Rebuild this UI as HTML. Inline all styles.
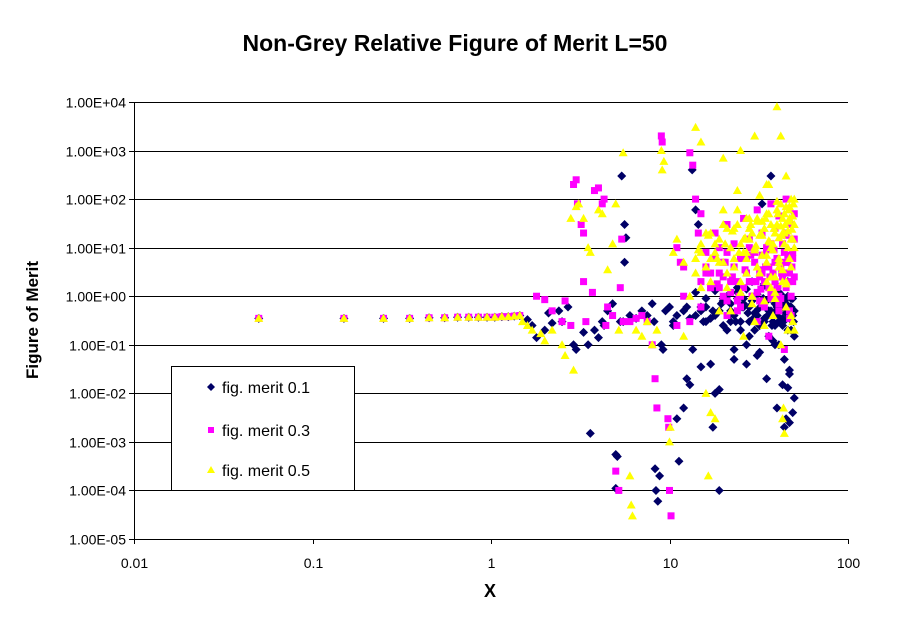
<!DOCTYPE html>
<html><head><meta charset="utf-8"><style>
body{margin:0;background:#fff;}
svg{display:block;font-family:"Liberation Sans",Arial,sans-serif;}
</style></head><body>
<svg id="chart" width="911" height="623" xmlns="http://www.w3.org/2000/svg">
<text x="455" y="51" text-anchor="middle" font-size="23" font-weight="bold">Non-Grey Relative Figure of Merit L=50</text>
<text transform="translate(38,320) rotate(-90)" text-anchor="middle" font-size="17" font-weight="bold">Figure of Merit</text>
<text x="490" y="597" text-anchor="middle" font-size="18" font-weight="bold">X</text>
<g id="grid"></g><g id="axes"></g><g id="marks"></g>
<g>
<rect x="171.5" y="366.5" width="183" height="124" fill="#fff" stroke="#000"/>
<g><path d="M211 383l4 4-4 4-4-4z" fill="#000066"/><text x="222" y="393" font-size="16">fig. merit 0.1</text></g>
<g><rect x="208" y="427" width="6" height="6" fill="#ff00ff"/><text x="222" y="436" font-size="16">fig. merit 0.3</text></g>
<g><path d="M211 466l4 7h-8z" fill="#ffff00"/><text x="222" y="476" font-size="16">fig. merit 0.5</text></g>
</g>
</svg>
<script>
const xTicks=[0.01,0.1,1,10,100];
const xTickLabels=["0.01","0.1","1","10","100"];
const yTicks=[1e4,1e3,1e2,1e1,1,1e-1,1e-2,1e-3,1e-4,1e-5];
const yTickLabels=["1.00E+04","1.00E+03","1.00E+02","1.00E+01","1.00E+00","1.00E-01","1.00E-02","1.00E-03","1.00E-04","1.00E-05"];
const baseX=[0.05,0.15,0.25,0.35,0.45,0.55,0.65,0.75,0.85,0.95,1.05,1.15,1.25,1.35,1.45];
const baseY=[0.35,0.35,0.35,0.35,0.36,0.36,0.37,0.37,0.37,0.37,0.37,0.38,0.38,0.39,0.4];
const s1X=[1.6,1.7,1.8,2.0,2.1,2.2,2.4,2.5,2.7,2.9,3.0,3.3,3.5,3.6,3.8,4.0,4.2,4.3,4.5,4.8,5.0,5.1,5.0,5.3,5.4,5.6,5.7,5.6,5.5,6,6.5,7,7.5,8,8.2,8.3,8.4,8.6,8.8,9,9.2,9.5,10,10.5,11,11.3,12,12.5,13,13.4,13.5,14,14.5,15,16,17,17.5,18,19,20,21,22,23,24,25,26,27,28,29,30,31,32,33,34,35,36,37,38,39,40,41,42,43,44,45,46,47,48,49,50,14,16,18,20,22,24,26,28,30,32,34,36,38,40,42,44,46,48,15,19,23,27,31,35,39,43,47,50,45,40,44,47,49,46,41,37,33];
const s1Y=[0.33,0.25,0.14,0.2,0.45,0.28,0.5,0.3,0.6,0.1,0.08,0.18,0.1,0.0015,0.2,0.14,0.3,0.25,0.5,0.7,0.00055,0.0005,0.00011,0.3,300,30,16,5,0.3,0.4,0.35,0.5,0.4,0.7,0.3,0.00028,0.0001,0.00006,0.0002,0.1,0.08,0.5,0.6,0.25,0.003,0.0004,0.005,0.02,0.015,400,0.08,60,30,0.5,0.3,0.04,0.002,0.01,0.0001,0.8,0.2,0.5,0.05,1.2,0.3,0.9,0.1,0.6,2,0.2,0.4,0.07,1.5,0.3,0.8,0.15,0.5,2.5,0.25,0.6,0.1,1.1,0.35,0.05,0.7,0.2,0.03,0.9,0.4,0.15,1.2,0.6,0.4,0.9,0.3,1.5,0.7,0.15,0.45,0.25,1.8,0.5,0.12,0.8,0.3,0.6,2,0.2,0.035,0.012,0.08,0.04,0.06,0.02,0.1,0.015,0.025,0.008,0.003,0.005,0.002,0.0025,0.004,0.013,0.3,300,80,0.02];
const c1X=[14,15,16,17,18,19,20,21,22,23,24,25,26,27,28,29,30,31,32,33,34,35,36,37,38,39,40,41,42,43,44,45,46,47,48,49,50,15.5,17.5,19.5,21.5,23.5,25.5,27.5,29.5,31.5,33.5,35.5,37.5,39.5,41.5,43.5,45.5,47.5,49.5,12,11,10.5,12.5,13];
const c1Y=[0.4,0.6,0.9,0.35,1.3,0.5,0.25,1,0.7,0.4,0.9,0.2,0.6,1.4,0.3,0.8,0.45,1.1,0.25,0.65,0.35,1.6,0.5,0.9,0.3,0.7,0.4,1.2,0.55,0.25,0.8,0.45,1,0.35,0.6,0.9,0.5,0.3,0.5,0.7,0.4,0.3,0.6,0.45,0.35,0.55,0.9,0.4,0.25,0.5,0.7,0.3,0.45,0.6,0.3,0.5,0.4,0.3,0.6,0.35];
const s2X=[1.8,2.0,2.2,2.5,2.6,2.8,2.9,3.0,3.05,3.2,3.3,3.3,3.4,3.7,3.8,4.0,4.2,4.3,4.4,4.5,4.8,5.0,5.2,5.3,5.4,5.5,6,6.5,7,7.5,8,8.3,8.5,9,9.1,10,10.2,9.8,9.9,11,11.5,12,13,13.5,14,14.5,15,16,17,18,19,20,21,22,23,24,25,26,27,28,29,30,31,32,33,34,35,36,37,38,39,40,41,42,43,44,45,46,47,48,49,50,15,17,19,21,23,25,27,29,31,33,35,37,39,41,43,45,47,49,16,20,24,28,32,36,40,44,48,50,13,12,11];
const s2Y=[1,0.85,0.5,0.3,0.8,0.25,200,250,80,30,20,2,0.3,1.2,150,170,80,100,0.25,0.6,0.4,0.00025,0.0001,1.5,15,0.3,0.3,0.35,0.4,0.3,0.1,0.02,0.005,2000,1500,0.0001,0.00003,0.003,0.002,10,5,1,900,500,100,20,50,8,3,20,1.5,5,30,2,12,0.8,6,40,3,15,1,8,60,2.5,20,0.6,10,4,80,1.2,25,5,45,0.9,12,3,100,7,0.5,30,2,15,0.6,1.5,10,0.4,4,1,6,2,0.3,3,9,1.2,5,0.7,2.5,18,0.35,8,3,1,0.5,2,0.8,0.15,1.5,0.08,0.4,50,0.3,4,0.25,0.9];
const c2X=[15,16,17,18,19,20,21,22,23,24,25,26,27,28,29,30,31,32,33,34,35,36,37,38,39,40,41,42,43,44,45,46,47,48,49,50,16.5,18.5,20.5,22.5,24.5,26.5,28.5,30.5,32.5,34.5,36.5,38.5,40.5,42.5,44.5,46.5,48.5,49.5,21,25,29,33,37,41,45];
const c2Y=[2,4,1.5,6,3,2.5,8,1.2,4,2,6,1.5,3,10,2,5,1.2,3.5,7,2,4,1.5,12,3,2,6,1,4,2.5,8,1.5,5,3,1,6,2.5,3,1.8,5,2.5,1,3.5,7,2,1.4,4,2.5,9,1.6,3,5,2,4,15,0.8,0.6,1,0.7,0.9,0.5,20];
const s3X=[1.5,1.6,1.7,1.9,2.0,2.2,2.5,2.6,2.9,2.8,3.0,3.1,3.3,3.5,3.6,4.0,4.2,4.5,4.8,5.0,5.5,5.2,6,6.1,6.2,6.5,7,7.5,8,8.5,9,9.1,9.3,10,10.1,10.5,11,12,13,14,15,16,16.5,17,18,20,25,30,35,40,42,44,43,43.5,45,14,15,16,17,18,19,20,21,22,23,24,25,26,27,28,29,30,31,32,33,34,35,36,37,38,39,40,41,42,43,44,45,46,47,48,49,50,15,17,19,21,23,25,27,29,31,33,35,37,39,41,43,45,47,49,50,22,26,30,34,38,42,46,48,20,24,28,32,36,40,44,48,12,11];
const s3Y=[0.3,0.25,0.2,0.17,0.12,0.2,0.1,0.06,0.03,40,70,80,40,10,8,60,50,3.5,12,80,900,0.2,0.0002,0.00005,0.00003,0.2,0.15,0.3,0.1,0.2,1000,400,600,0.001,0.002,8,15,5,1,3000,1500,0.01,0.0002,0.004,0.003,700,1000,2000,200,8000,2000,0.0015,0.003,0.005,300,3,8,20,2,12,5,30,1.5,10,4,60,2,15,6,25,1,9,40,3,18,0.8,7,50,2.5,12,1.2,30,5,80,2,20,0.6,10,40,4,15,100,1.5,6,0.5,3,25,1.2,8,0.7,4,35,2,10,0.9,6,20,1.8,70,0.3,0.2,0.5,0.15,0.3,0.25,0.4,0.1,0.2,100,60,150,40,120,200,90,50,0.4,0.15];
const c3X=[14,15,16,17,18,19,20,21,22,23,24,25,26,27,28,29,30,31,32,33,34,35,36,37,38,39,40,41,42,43,44,45,46,47,48,49,50,14.5,16.5,18.5,20.5,22.5,24.5,26.5,28.5,30.5,32.5,34.5,36.5,38.5,40.5,42.5,44.5,46.5,48.5,49.5,27,31,35,39,43,47,50,45,41,37];
const c3Y=[6,12,4,20,8,15,5,25,10,6,30,12,8,40,15,20,10,35,18,7,25,50,14,30,9,20,60,16,28,40,12,70,22,35,15,45,30,9,18,6,12,22,8,16,30,11,20,40,13,25,50,18,30,60,24,80,3,4,5,2.5,3.5,6,10,2,4,1.5];
const x0=134,x1=848,yTop=102,yBot=539;
function sx(v){return x0+(Math.log10(v)+2)/4*(x1-x0);}
function sy(v){return yTop+(4-Math.log10(v))/9*(yBot-yTop);}
const NS="http://www.w3.org/2000/svg";
function mk(tag,attrs,parent){const e=document.createElementNS(NS,tag);for(const k in attrs)e.setAttribute(k,attrs[k]);parent.appendChild(e);return e;}
const grid=document.getElementById('grid'),axes=document.getElementById('axes'),marks=document.getElementById('marks');
yTicks.forEach((t,i)=>{const y=Math.round(sy(t))+0.5;
 if(i<yTicks.length-1){const g=mk('line',{x1:x0,x2:x1,y1:y,y2:y,stroke:'#000','stroke-width':1},grid);
 
 }
 mk('line',{x1:x0-5,x2:x0,y1:y,y2:y,stroke:'#000'},axes);
 const l=mk('text',{x:x0-8,y:y+5,'text-anchor':'end','font-size':14},axes);l.textContent=yTickLabels[i];
 
 });
xTicks.forEach((t,i)=>{const x=Math.round(sx(t))+0.5;
 mk('line',{x1:x,x2:x,y1:yBot,y2:yBot+5,stroke:'#000'},axes);
 const l=mk('text',{x:x,y:yBot+29,'text-anchor':'middle','font-size':14},axes);l.textContent=xTickLabels[i];
 
 });
const ya=mk('line',{x1:x0+0.5,x2:x0+0.5,y1:yTop,y2:yBot+0.5,stroke:'#000'},axes);


const xa=mk('line',{x1:x0,x2:x1,y1:yBot+0.5,y2:yBot+0.5,stroke:'#000'},axes);


function draw(xs,ys,type){for(let i=0;i<xs.length;i++){const x=sx(xs[i]),y=sy(ys[i]);let e;
 if(type===1)e=mk('path',{d:`M${x} ${y-4.5}l4.5 4.5-4.5 4.5-4.5-4.5z`,fill:'#000066'},marks);
 else if(type===2)e=mk('rect',{x:x-3.5,y:y-3.5,width:7,height:7,fill:'#ff00ff'},marks);
 else e=mk('path',{d:`M${x} ${y-4.5}l4.5 8h-9z`,fill:'#ffff00'},marks);
 
 }}
draw(baseX,baseY,1);draw(s1X,s1Y,1);draw(c1X,c1Y,1);
draw(baseX,baseY,2);draw(s2X,s2Y,2);draw(c2X,c2Y,2);
draw(baseX,baseY,3);draw(s3X,s3Y,3);draw(c3X,c3Y,3);
</script>
</body></html>
